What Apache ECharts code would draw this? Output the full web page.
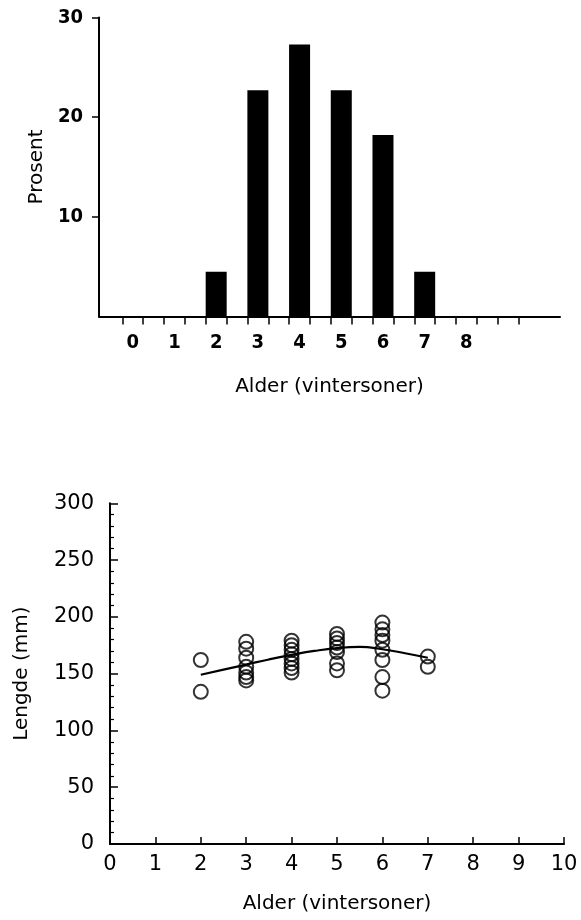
<!DOCTYPE html>
<html>
<head>
<meta charset="utf-8">
<title>Alder og lengde</title>
<script src="https://cdn.jsdelivr.net/npm/echarts@6/dist/echarts.min.js"></script>
<style>
  html, body { margin: 0; padding: 0; background: #fff; }
  #chart { width: 581px; height: 920px; }
</style>
</head>
<body>
<div id="chart"></div>
<script>
// top: aldersfordeling (prosent)
const ages = [0, 1, 2, 3, 4, 5, 6, 7, 8]
const percent = [0, 0, 4.5, 22.7, 27.3, 22.7, 18.2, 4.5, 0]
const percentTicks = [10, 20, 30]

// bottom: lengde per alder (mm)
const lengthAge2 = [162, 134]
const lengthAge3 = [178, 172, 164, 156, 151, 147, 144]
const lengthAge4 = [179, 175, 171, 167, 163, 159, 155, 151]
const lengthAge5 = [185, 181, 177, 173, 169, 159, 153]
const lengthAge6 = [195, 189, 184, 179, 171, 162, 147, 135]
const lengthAge7 = [165, 156]
const trendAge = [2, 2.5, 3, 3.5, 4, 4.5, 5, 5.5, 6, 6.5, 7]
const trendLength = [149, 153.5, 158, 162.5, 166.5, 170, 172.5, 173.5, 171.5, 168, 164]
const lengthTicks = [0, 50, 100, 150, 200, 250, 300]
const ageTicks = [0, 1, 2, 3, 4, 5, 6, 7, 8, 9, 10]

const titleFont = 'DejaVu Sans'
const boldFont = "'Liberation Sans Narrow', 'Arial Narrow', 'DejaVu Sans Condensed', sans-serif"

// bar edges get a tick each (bar is half a class wide)
const halfBar = 0.25
const edgeTicks = []
for (let a = 0; a <= 9; a++) {
  edgeTicks.push(a - halfBar, a + halfBar)
}

const scatterColumns = [
  [2, lengthAge2], [3, lengthAge3], [4, lengthAge4],
  [5, lengthAge5], [6, lengthAge6], [7, lengthAge7]
]
const scatterData = []
scatterColumns.forEach(([age, vals]) => {
  vals.forEach(v => scatterData.push([age, v]))
})

const chart = echarts.init(document.getElementById('chart'), null, { renderer: 'canvas' })

const black = '#000'

chart.setOption({
  animation: false,
  backgroundColor: '#fff',
  grid: [
    { left: 99, top: 17.5, width: 461, height: 299 },
    { left: 110, top: 503.3, width: 454, height: 340.7 }
  ],
  xAxis: [{
    gridIndex: 0,
    type: 'value',
    min: -0.81,
    max: 10.245,
    name: 'Alder (vintersoner)',
    nameLocation: 'middle',
    nameGap: 60,
    nameTextStyle: { fontFamily: titleFont, fontSize: 20, color: black },
    axisLine: { show: true, onZero: false, lineStyle: { color: black, width: 2 } },
    axisTick: { show: true, customValues: edgeTicks, length: 8, lineStyle: { color: black, width: 1.5 } },
    axisLabel: {
      customValues: ages,
      fontFamily: boldFont,
      fontWeight: 'bold',
      fontSize: 20,
      color: black,
      margin: 16
    },
    splitLine: { show: false }
  }, {
    gridIndex: 1,
    type: 'value',
    min: 0,
    max: 10,
    interval: 1,
    name: 'Alder (vintersoner)',
    nameLocation: 'middle',
    nameGap: 50,
    nameTextStyle: { fontFamily: titleFont, fontSize: 20, color: black },
    axisLine: { show: true, onZero: false, lineStyle: { color: black, width: 2 } },
    axisTick: { show: true, inside: true, length: 7, customValues: ageTicks, lineStyle: { color: black, width: 1.5 } },
    axisLabel: { customValues: ageTicks, fontFamily: titleFont, fontSize: 21, color: black, margin: 10 },
    splitLine: { show: false }
  }],
  yAxis: [{
    gridIndex: 0,
    type: 'value',
    min: 0,
    max: 30,
    interval: 10,
    name: 'Prosent',
    nameLocation: 'middle',
    nameGap: 52,
    nameTextStyle: { fontFamily: titleFont, fontSize: 20, color: black },
    axisLine: { show: true, onZero: false, lineStyle: { color: black, width: 2 } },
    axisTick: { show: true, customValues: percentTicks, length: 7, lineStyle: { color: black, width: 1.5 } },
    axisLabel: {
      customValues: percentTicks,
      fontFamily: boldFont,
      fontWeight: 'bold',
      fontSize: 20,
      color: black,
      margin: 16
    },
    splitLine: { show: false }
  }, {
    gridIndex: 1,
    type: 'value',
    min: 0,
    max: 300,
    interval: 50,
    name: 'Lengde (mm)',
    nameLocation: 'middle',
    nameGap: 78,
    nameTextStyle: { fontFamily: titleFont, fontSize: 20, color: black },
    axisLine: { show: true, onZero: false, lineStyle: { color: black, width: 2 } },
    axisTick: { show: true, inside: true, length: 8, lineStyle: { color: black, width: 1.5 } },
    minorTick: { show: true, splitNumber: 5, length: 4, lineStyle: { color: black, width: 1.2 } },
    axisLabel: { customValues: lengthTicks, fontFamily: titleFont, fontSize: 21, color: black, margin: 16 },
    splitLine: { show: false },
    minorSplitLine: { show: false }
  }],
  series: [{
    type: 'bar',
    xAxisIndex: 0,
    yAxisIndex: 0,
    barWidth: 21,
    data: ages.map((a, i) => [a, percent[i]]),
    itemStyle: { color: black }
  }, {
    type: 'scatter',
    xAxisIndex: 1,
    yAxisIndex: 1,
    symbol: 'circle',
    symbolSize: 14,
    data: scatterData,
    itemStyle: { color: 'rgba(0,0,0,0)', borderColor: black, borderWidth: 2 }
  }, {
    type: 'line',
    xAxisIndex: 1,
    yAxisIndex: 1,
    smooth: true,
    showSymbol: false,
    data: trendAge.map((a, i) => [a, trendLength[i]]),
    lineStyle: { color: black, width: 2.2 }
  }]
})
</script>
</body>
</html>
